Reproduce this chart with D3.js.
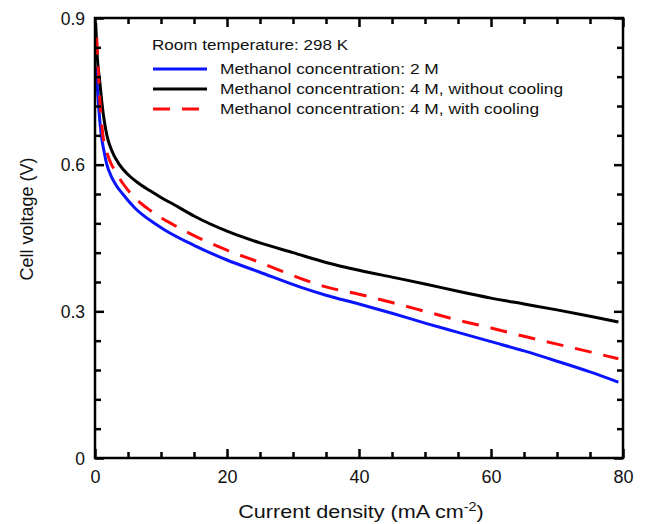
<!DOCTYPE html>
<html>
<head>
<meta charset="utf-8">
<script src="https://cdn.jsdelivr.net/npm/d3@7"></script>
<style>
  html, body { margin: 0; padding: 0; background: #fff; }
  svg { display: block; font-family: Arial, "Liberation Sans", Helvetica, sans-serif; }
</style>
</head>
<body>
<svg id="chart" width="645" height="524"></svg>
<script>
// ---- data ----
const legendTitle = "Room temperature: 298 K";
const seriesNames = [
  "Methanol concentration: 2 M",
  "Methanol concentration: 4 M, without cooling",
  "Methanol concentration: 4 M, with cooling"
];
const xTicks = [0, 20, 40, 60, 80];
const yTicks = [0, 0.3, 0.6, 0.9];

// Methanol 2 M (blue)
const blueCurrent = [0.15, 0.35, 0.6, 0.96, 1.4, 1.8, 2.5, 3.2, 4.2, 6, 9, 10.5, 15, 20, 25, 31, 35, 40, 45, 50, 55, 60, 65, 70, 75, 79.3];
const blueVoltage = [0.80, 0.759, 0.71, 0.66, 0.625, 0.60, 0.575, 0.558, 0.54, 0.512, 0.48, 0.467, 0.435, 0.405, 0.38, 0.35, 0.333, 0.315, 0.296, 0.276, 0.257, 0.238, 0.219, 0.198, 0.176, 0.155];

// Methanol 4 M, without cooling (black)
const blackCurrent = [0.1, 0.4, 0.7, 1.1, 1.8, 2.5, 3.7, 5, 6.5, 8.3, 10, 12, 15, 20, 25, 30, 35, 40, 45, 50, 55, 60, 65, 70, 75, 79.3];
const blackVoltage = [0.89, 0.81, 0.773, 0.72, 0.66, 0.63, 0.60, 0.580, 0.563, 0.547, 0.533, 0.518, 0.495, 0.464, 0.44, 0.42, 0.40, 0.384, 0.37, 0.356, 0.341, 0.327, 0.315, 0.303, 0.29, 0.278];

// Methanol 4 M, with cooling (red dashed)
const redCurrent = [0.25, 0.4, 0.7, 1.2, 1.8, 2.5, 3.0, 4.2, 5.5, 8, 10.2, 11.5, 15, 20, 25, 32, 35, 40, 45, 50, 55, 60, 65, 70, 75, 79.3];
const redVoltage = [0.86, 0.82, 0.74, 0.66, 0.625, 0.60, 0.588, 0.562, 0.54, 0.51, 0.49, 0.48, 0.455, 0.425, 0.40, 0.363, 0.35, 0.335, 0.318, 0.30, 0.282, 0.266, 0.249, 0.233, 0.217, 0.203];

const seriesColors = ["#0a14ff", "#000000", "#ff0a0a"];

// ---- layout ----
const svg = d3.select("#chart");
const mLeft = 95, mRight = 623, mTop = 18, mBottom = 458;
const x = d3.scaleLinear().domain([0, 80]).range([mLeft, mRight]);
const y = d3.scaleLinear().domain([0, 0.9]).range([mBottom, mTop]);

const series = [
  { name: seriesNames[0], xs: blueCurrent, ys: blueVoltage, color: seriesColors[0], dash: null },
  { name: seriesNames[1], xs: blackCurrent, ys: blackVoltage, color: seriesColors[1], dash: null },
  { name: seriesNames[2], xs: redCurrent, ys: redVoltage, color: seriesColors[2], dash: "17,12" }
];

const line = d3.line().x(d => x(d[0])).y(d => y(d[1])).curve(d3.curveMonotoneX);

svg.append("defs").append("clipPath").attr("id", "clip")
  .append("rect").attr("x", mLeft).attr("y", mTop).attr("width", mRight - mLeft).attr("height", mBottom - mTop);

const g = svg.append("g").attr("clip-path", "url(#clip)");
series.forEach(s => {
  g.append("path")
    .datum(s.xs.map((v, i) => [v, s.ys[i]]))
    .attr("d", line)
    .attr("fill", "none")
    .attr("stroke", s.color)
    .attr("stroke-width", 3)
    .attr("stroke-dasharray", s.dash);
});

// ---- axes (ticks inward, mirrored) ----
const xMinor = d3.range(0, 80.01, 5);
const yMinor = d3.range(0, 0.901, 0.06);
const majorLen = 9, minorLen = 6;

const axisG = svg.append("g");
function xAxisAt(yPos, dir) {
  const a = d3.axisBottom(x).tickValues(xMinor).tickSize(0).tickFormat("");
  const ag = axisG.append("g").attr("transform", `translate(0,${yPos})`).call(a);
  ag.select(".domain").remove();
  ag.selectAll(".tick line")
    .attr("y2", d => dir * (xTicks.includes(Math.round(d)) ? majorLen : minorLen))
    .attr("stroke", "#000").attr("stroke-width", 2.5);
}
function yAxisAt(xPos, dir) {
  const a = d3.axisLeft(y).tickValues(yMinor).tickSize(0).tickFormat("");
  const ag = axisG.append("g").attr("transform", `translate(${xPos},0)`).call(a);
  ag.select(".domain").remove();
  ag.selectAll(".tick line")
    .attr("x2", d => dir * (yTicks.some(t => Math.abs(t - d) < 1e-6) ? majorLen : minorLen))
    .attr("stroke", "#000").attr("stroke-width", 2.5);
}
xAxisAt(mBottom, -1);
xAxisAt(mTop, 1);
yAxisAt(mLeft, 1);
yAxisAt(mRight, -1);

// frame
svg.append("rect").attr("x", mLeft).attr("y", mTop).attr("width", mRight - mLeft).attr("height", mBottom - mTop)
  .attr("fill", "none").attr("stroke", "#000").attr("stroke-width", 2.5);

// tick labels
const xl = d3.axisBottom(x).tickValues(xTicks).tickSize(0).tickPadding(0).tickFormat(d3.format("d"));
const xlg = svg.append("g").attr("transform", `translate(0,${mBottom + 25})`).call(xl);
xlg.select(".domain").remove();
xlg.selectAll("text").attr("dy", 0).attr("font-size", 18).attr("font-family", "Arial, 'Liberation Sans', sans-serif").attr("fill", "#111");

const yl = d3.axisLeft(y).tickValues(yTicks).tickSize(0).tickPadding(0).tickFormat(d => d === 0 ? "0" : d3.format(".1f")(d));
const ylg = svg.append("g").attr("transform", `translate(${mLeft - 10},0)`).call(yl);
ylg.select(".domain").remove();
ylg.selectAll("text").attr("dy", "0.36em").attr("font-size", 17.5).attr("font-family", "Arial, 'Liberation Sans', sans-serif").attr("fill", "#111");

// axis titles (horizontally stretched like the reference)
const xt = svg.append("text")
  .attr("transform", `translate(361,518) scale(1.2,1)`)
  .attr("text-anchor", "middle").attr("font-size", 18).attr("fill", "#111");
xt.append("tspan").text("Current density (mA cm");
xt.append("tspan").attr("dy", -7).attr("font-size", 12).text("-2");
xt.append("tspan").attr("dy", 7).text(")");

svg.append("text").attr("transform", `translate(33,219) rotate(-90)`)
  .attr("text-anchor", "middle").attr("font-size", 18).attr("fill", "#111").text("Cell voltage (V)");

// legend
const lx = 152, ly = 50;
const sx = 1.12;
svg.append("text").attr("transform", `translate(${lx},${ly}) scale(1.1,1)`).attr("font-size", 15.5).attr("fill", "#111").text(legendTitle);
series.forEach((s, i) => {
  const yy = 69 + i * 20;
  svg.append("line").attr("x1", lx + 1).attr("x2", lx + 55).attr("y1", yy).attr("y2", yy)
    .attr("stroke", s.color).attr("stroke-width", 3).attr("stroke-dasharray", s.dash);
  svg.append("text").attr("transform", `translate(220,${yy + 5}) scale(${sx},1)`)
    .attr("font-size", 15.5).attr("fill", "#111").text(s.name);
});
</script>
</body>
</html>
